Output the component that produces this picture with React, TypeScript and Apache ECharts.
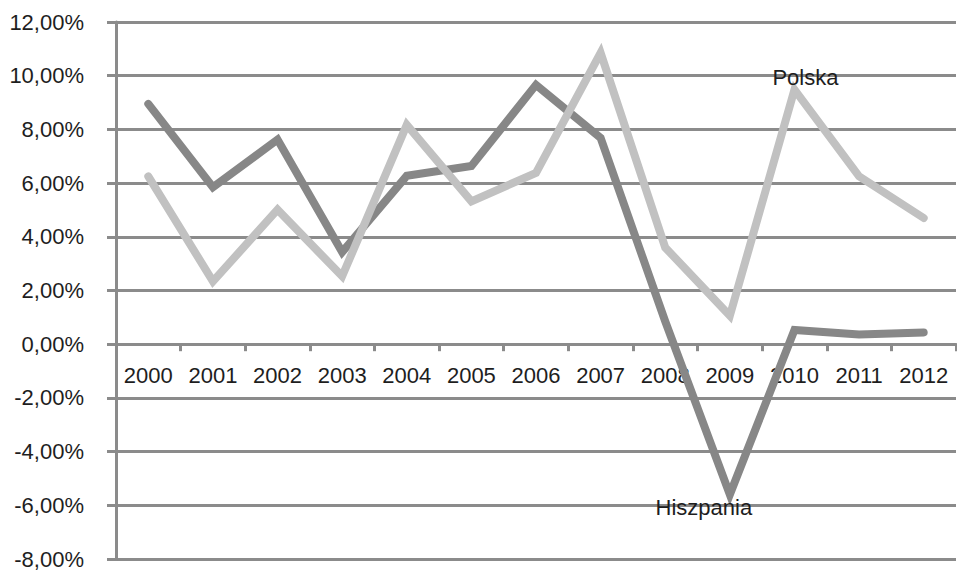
import React, { useEffect, useRef } from "react";
import * as echarts from "echarts";

// Annual growth rates, 2000–2012
const years = ["2000", "2001", "2002", "2003", "2004", "2005", "2006", "2007", "2008", "2009", "2010", "2011", "2012"];
const hiszpania = [8.95, 5.85, 7.62, 3.43, 6.27, 6.64, 9.66, 7.68, 0.85, -5.6, 0.53, 0.36, 0.44];
const polska = [6.25, 2.34, 5.01, 2.53, 8.17, 5.32, 6.38, 10.85, 3.6, 1.06, 9.48, 6.25, 4.7];

const Y_MIN = -8;
const Y_MAX = 12;

const FONT = "'Liberation Sans', Arial, Helvetica, sans-serif";
const GRID_COLOR = "#8b8b8b";
const TEXT_COLOR = "#1e1e1e";

const GRID_TOP = 22;
const GRID_BOTTOM = 13;
const CHART_H = 572;

const fmtPct = (v: number) => v.toFixed(2).replace(".", ",") + "%";

export default function App() {
  const ref = useRef<HTMLDivElement>(null);

  useEffect(() => {
    if (!ref.current) return;
    const chart = echarts.init(ref.current, undefined, { renderer: "svg" });

    // category axis sits on the zero line: shift it up from the grid bottom
    const plotH = CHART_H - GRID_TOP - GRID_BOTTOM;
    const zeroOffset = -(plotH * (0 - Y_MIN)) / (Y_MAX - Y_MIN);

    const nameLabel = (text: string, position: string, offset: number[]) => ({
      show: true,
      position,
      formatter: text,
      offset,
      color: TEXT_COLOR,
      fontFamily: FONT,
      fontSize: 22,
      opacity: 1,
    });

    const hiszpaniaData = hiszpania.map((v, i) =>
      i === 9 ? { value: v, label: nameLabel("Hiszpania", "bottom", [-26, -4]) } : v
    );
    const polskaData = polska.map((v, i) =>
      i === 10 ? { value: v, label: nameLabel("Polska", "top", [11, 4]) } : v
    );

    chart.setOption({
      animation: false,
      backgroundColor: "#ffffff",
      grid: {
        left: 116,
        right: 1,
        top: GRID_TOP,
        bottom: GRID_BOTTOM,
        containLabel: false,
        outerBoundsMode: "none",
      },
      xAxis: {
        type: "category",
        data: years,
        boundaryGap: true,
        position: "bottom",
        offset: zeroOffset,
        axisLine: { onZero: false, lineStyle: { color: GRID_COLOR, width: 3 } },
        axisTick: {
          show: true,
          inside: false,
          length: 7,
          lineStyle: { color: GRID_COLOR, width: 3 },
        },
        axisLabel: {
          interval: 0,
          margin: 20,
          color: TEXT_COLOR,
          fontFamily: FONT,
          fontSize: 22,
        },
        splitLine: { show: false },
      },
      yAxis: {
        type: "value",
        min: Y_MIN,
        max: Y_MAX,
        interval: 2,
        axisLine: { show: true, lineStyle: { color: GRID_COLOR, width: 3 } },
        axisTick: {
          show: true,
          length: 9,
          lineStyle: { color: GRID_COLOR, width: 3 },
        },
        axisLabel: {
          formatter: fmtPct,
          margin: 32,
          color: TEXT_COLOR,
          fontFamily: FONT,
          fontSize: 22,
        },
        splitLine: { show: true, lineStyle: { color: GRID_COLOR, width: 3 } },
      },
      series: [
        {
          name: "Hiszpania",
          type: "line",
          data: hiszpaniaData,
          showSymbol: true,
          symbol: "circle",
          symbolSize: 1,
          label: { show: false },
          lineStyle: { color: "#878787", width: 8, cap: "round", join: "miter" },
          itemStyle: { color: "rgba(0,0,0,0)" },
          z: 3,
        },
        {
          name: "Polska",
          type: "line",
          data: polskaData,
          showSymbol: true,
          symbol: "circle",
          symbolSize: 1,
          label: { show: false },
          lineStyle: { color: "#c1c1c1", width: 8, cap: "round", join: "miter" },
          itemStyle: { color: "rgba(0,0,0,0)" },
          z: 4,
        },
      ],
    });

    return () => chart.dispose();
  }, []);

  return (
    <div
      ref={ref}
      style={{ position: "fixed", left: 0, top: 0, width: 957, height: 572, background: "#fff" }}
    />
  );
}
